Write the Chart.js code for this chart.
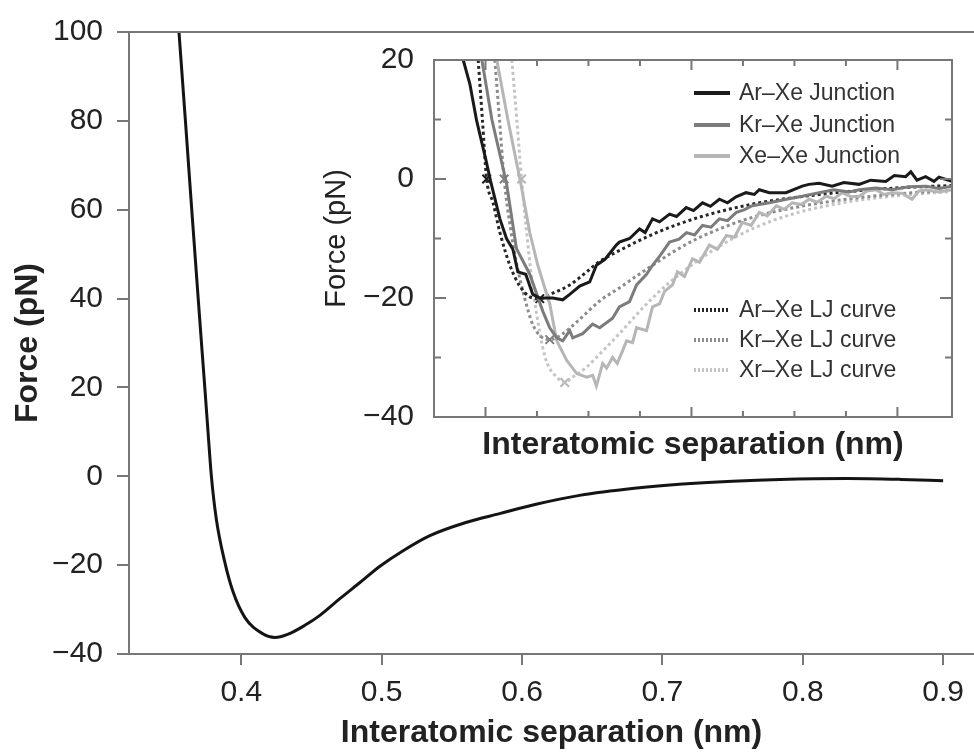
<!DOCTYPE html>
<html>
<head>
<meta charset="utf-8">
<script src="https://cdn.jsdelivr.net/npm/chart.js@4.4.0/dist/chart.umd.min.js"></script>
<style>
  body { margin: 0; background: #fff; }
  #wrap { position: relative; width: 974px; height: 752px; }
  #main_canvas { position: absolute; left: 0; top: 0; }
  #inset_canvas { position: absolute; left: 300px; top: 30px; }
</style>
</head>
<body>
<div id="wrap">
  <canvas id="main_canvas" width="974" height="752"></canvas>
  <canvas id="inset_canvas" width="660" height="440"></canvas>
</div>
<script>
// MAIN CURVE (nm, pN)
const main_x = [0.3556,0.3602,0.3647,0.3693,0.3721,0.3740,0.3763,0.3787,0.3822,0.3880,0.394,0.4026,0.4156,0.424,0.433,0.445,0.456,0.47,0.485,0.499,0.515,0.534,0.56,0.584,0.61,0.641,0.68,0.712,0.75,0.784,0.831,0.87,0.90];
const main_y = [100,80,60,40,28,20,10,0,-9.6,-19,-25.9,-31.8,-35.5,-36.3,-35.6,-33.6,-31.3,-27.6,-23.8,-20.2,-16.8,-13.4,-10.4,-8.4,-6.3,-4.3,-2.7,-1.8,-1.1,-0.7,-0.5,-0.7,-1.0];
const main_xticks = [0.4,0.5,0.6,0.7,0.8,0.9];
const main_yticks = [-40,-20,0,20,40,60,80,100];

// INSET: measured junctions
const ar_j_x = [0.3784,0.3849,0.3914,0.4004,0.4049,0.4140,0.4204,0.4266,0.4314,0.4391,0.4459,0.4527,0.4653,0.4750,0.4818,0.4915,0.5012,0.5077,0.516,0.527,0.530,0.540,0.5496,0.555,0.5622,0.569,0.5787,0.5855,0.5949,0.602,0.6107,0.6184,0.6271,0.635,0.6433,0.653,0.661,0.6659,0.6756,0.6918,0.7076,0.714,0.724,0.7366,0.748,0.7628,0.774,0.7887,0.797,0.808,0.813,0.819,0.8274,0.8355,0.8403,0.853];
const ar_j_y = [20,15.9,9.8,3.2,-0.3,-6.7,-10,-11.8,-15.6,-16,-19.4,-20,-20,-20.3,-19.4,-18,-17.3,-14.5,-13.5,-11.1,-10.6,-10.0,-8.4,-9.0,-6.7,-7.2,-5.9,-6.3,-4.8,-5.3,-4.0,-4.6,-3.4,-4.0,-3.0,-2.3,-2.6,-1.8,-2.3,-2.3,-1.2,-0.9,-0.7,-1.2,-0.6,-0.9,-0.2,-0.4,0.6,0.4,1.2,-0.2,0.4,-0.4,0.3,-0.4];

const kr_j_x = [0.3965,0.4062,0.4204,0.4301,0.443,0.4556,0.4624,0.4692,0.475,0.4818,0.4847,0.4944,0.504,0.5109,0.5234,0.530,0.5399,0.5467,0.5564,0.5622,0.569,0.5787,0.588,0.5952,0.603,0.6107,0.619,0.6271,0.635,0.6436,0.651,0.6591,0.6756,0.6921,0.7076,0.724,0.7384,0.753,0.7628,0.779,0.7948,0.811,0.8277,0.840,0.853];
const kr_j_y = [20,10,-0.7,-11.7,-16,-22.2,-25,-26.7,-27.2,-25.5,-26.7,-26,-24.4,-25,-23.4,-21.5,-20.6,-17.8,-16,-14.5,-13,-10.6,-10.1,-9,-9.4,-7.8,-8.1,-6.7,-7.0,-5.6,-5.2,-4.5,-4.0,-3.4,-2.9,-2.3,-1.8,-2.2,-1.8,-1.5,-1.8,-1.3,-1.2,-1.6,-1.2];

const xe_j_x = [0.4110,0.4217,0.4340,0.443,0.4508,0.4624,0.4692,0.4789,0.4886,0.4983,0.5041,0.5077,0.5138,0.5176,0.5234,0.528,0.5331,0.537,0.5428,0.5467,0.5564,0.5622,0.569,0.5738,0.5816,0.5864,0.5932,0.601,0.6078,0.6174,0.6252,0.634,0.6417,0.6494,0.658,0.6659,0.6736,0.6824,0.690,0.6979,0.7066,0.7143,0.722,0.7308,0.7386,0.7463,0.755,0.7628,0.7705,0.7793,0.787,0.7948,0.8045,0.8141,0.821,0.8277,0.840,0.853];
const xe_j_y = [20,10,-0.5,-9,-14.5,-21,-27.2,-30.5,-32.7,-33.3,-33,-34.8,-31,-31.8,-30,-31,-28.9,-27.2,-27.5,-25,-25.5,-21.5,-21,-18.9,-17.8,-15.6,-16.4,-13.4,-14,-11.1,-11.8,-9.5,-9.8,-7.3,-7.8,-5.6,-6.2,-4.5,-5.1,-4,-4.3,-3.4,-3.9,-2.9,-3.3,-2.3,-3.0,-2.9,-2.0,-1.8,-2.6,-2.3,-2.4,-3.4,-2.0,-1.8,-2.2,-1.8];

// INSET: Lennard-Jones curves
const ar_lj_x = [0.3929,0.3970,0.4011,0.4074,0.4140,0.4237,0.4333,0.4430,0.4527,0.4653,0.4818,0.4983,0.5080,0.537,0.569,0.61,0.66,0.71,0.76,0.81,0.853];
const ar_lj_y = [20,10,0,-4,-9,-14.5,-18,-19.8,-20.1,-19.2,-17.8,-15.6,-14.2,-11.4,-8.8,-6.3,-4.2,-2.9,-2.0,-1.4,-1.1];

const kr_lj_x = [0.4091,0.4136,0.4181,0.4240,0.4300,0.4380,0.4460,0.4540,0.4624,0.4750,0.4900,0.5109,0.530,0.5467,0.5622,0.58,0.60,0.63,0.66,0.70,0.75,0.80,0.853];
const kr_lj_y = [20,10,0,-8,-14,-20,-24.5,-26.5,-27,-26,-23.8,-20.5,-18.3,-16.3,-14.5,-12.5,-10.5,-8.2,-6.4,-4.8,-3.4,-2.5,-1.9];

const xe_lj_x = [0.4256,0.4304,0.4350,0.4400,0.4450,0.4500,0.4552,0.4600,0.4692,0.4770,0.4847,0.4983,0.5138,0.530,0.5467,0.5622,0.58,0.60,0.63,0.66,0.70,0.75,0.80,0.853];
const xe_lj_y = [20,10,0,-9,-17,-23,-28,-31,-33.3,-34.2,-33.3,-31.6,-28.9,-26,-22.8,-20,-17.2,-14.5,-11,-8.3,-5.8,-3.9,-2.8,-2.1];

// crosses on the LJ curves (zero crossing and minimum)
const mark_x = [0.4011,0.4181,0.4350,0.4527,0.4624,0.4770];
const mark_y = [0,0,0,-20.1,-27,-34.2];

const inset_yticks = [-40,-20,0,20];
const inset_yminor = [-30,-10,10];
const inset_xmajor = [0.4,0.6,0.8];
const inset_xminor = [0.45,0.5,0.55,0.65,0.7,0.75];

const FONT = "'Liberation Sans', Arial, sans-serif";
const AXIS = '#777';
const TXT = '#222';

function pts(xs, ys) { return xs.map((x, i) => ({ x: x, y: ys[i] })); }
function fmt_minus(v) { return v < 0 ? '\u2212' + Math.abs(v) : '' + v; }

// MAIN CHART
const top_line = {
    id: 'top_line',
    afterDraw(chart) {
        const ctx = chart.ctx, a = chart.chartArea;
        ctx.save();
        ctx.strokeStyle = AXIS;
        ctx.lineWidth = 2;
        ctx.beginPath();
        ctx.moveTo(a.left, a.top);
        ctx.lineTo(a.right, a.top);
        ctx.stroke();
        ctx.restore();
    }
};

const main_config = {
    type: 'line',
    data: {
        datasets: [{
            data: pts(main_x, main_y),
            borderColor: '#141414',
            borderWidth: 3,
            pointRadius: 0,
            cubicInterpolationMode: 'monotone',
            fill: false
        }]
    },
    options: {
        responsive: false,
        animation: false,
        layout: { padding: { top: 21, right: 0, left: 0, bottom: 0 } },
        plugins: { legend: { display: false }, tooltip: { enabled: false } },
        scales: {
            x: {
                type: 'linear', min: 0.32, max: 0.922,
                afterBuildTicks: s => { s.ticks = main_xticks.map(v => ({ value: v })); },
                afterFit: s => { s.height = 98; },
                ticks: { font: { family: FONT, size: 30 }, color: TXT, padding: 10, maxRotation: 0,
                         callback: v => v.toFixed(1) },
                grid: { drawOnChartArea: false, tickLength: 11, color: AXIS, lineWidth: 2 },
                border: { color: AXIS, width: 2 },
                title: { display: true, text: 'Interatomic separation (nm)', color: TXT,
                         font: { family: FONT, size: 32, weight: 'bold' }, padding: { top: 0, bottom: 0 } }
            },
            y: {
                type: 'linear', min: -40, max: 100,
                afterBuildTicks: s => { s.ticks = main_yticks.map(v => ({ value: v })); },
                afterFit: s => { s.width = 129; },
                ticks: { font: { family: FONT, size: 30 }, color: TXT, padding: 14, callback: fmt_minus },
                grid: { drawOnChartArea: false, tickLength: 12, color: AXIS, lineWidth: 2 },
                border: { color: AXIS, width: 2 },
                title: { display: true, text: 'Force (pN)', color: TXT,
                         font: { family: FONT, size: 32, weight: 'bold' }, padding: { top: 9, bottom: 0 } }
            }
        }
    },
    plugins: [top_line]
};
const main_chart = new Chart(document.getElementById('main_canvas'), main_config);

// INSET CHART
const inset_frame = {
    id: 'inset_frame',
    afterDatasetsDraw(chart) {
        const ctx = chart.ctx, a = chart.chartArea;
        const sx = chart.scales.x, sy = chart.scales.y;
        ctx.save();
        ctx.strokeStyle = AXIS;
        ctx.lineWidth = 2;
        ctx.strokeRect(a.left, a.top, a.right - a.left, a.bottom - a.top);
        ctx.beginPath();
        const xt = (v, len) => {
            const p = sx.getPixelForValue(v);
            ctx.moveTo(p, a.bottom); ctx.lineTo(p, a.bottom - len);
            ctx.moveTo(p, a.top); ctx.lineTo(p, a.top + len);
        };
        const yt = (v, len) => {
            const p = sy.getPixelForValue(v);
            ctx.moveTo(a.left, p); ctx.lineTo(a.left + len, p);
            ctx.moveTo(a.right, p); ctx.lineTo(a.right - len, p);
        };
        inset_xmajor.forEach(v => xt(v, 10));
        inset_xminor.forEach(v => xt(v, 6));
        inset_yticks.forEach(v => yt(v, 12));
        inset_yminor.forEach(v => yt(v, 7));
        ctx.stroke();
        ctx.restore();
    }
};

const inset_legend = {
    id: 'inset_legend',
    afterDraw(chart) {
        const ctx = chart.ctx, a = chart.chartArea;
        const rows = [33, 65, 96, 250, 280, 310];
        ctx.save();
        ctx.font = '23px ' + FONT;
        ctx.fillStyle = '#333';
        ctx.textBaseline = 'middle';
        rows.forEach((dy, i) => {
            const ds = chart.data.datasets[i];
            const y = a.top + dy;
            ctx.save();
            ctx.strokeStyle = ds.borderColor;
            ctx.lineWidth = 4;
            ctx.setLineDash(ds.borderDash.length ? [2, 2] : []);
            ctx.beginPath();
            ctx.moveTo(a.right - 258, y);
            ctx.lineTo(a.right - 222, y);
            ctx.stroke();
            ctx.restore();
            ctx.fillText(ds.label, a.right - 213, y + 1);
        });
        ctx.restore();
    }
};

function line_ds(label, xs, ys, color, width, dash) {
    return {
        label: label,
        data: pts(xs, ys),
        borderColor: color,
        borderWidth: width,
        borderDash: dash,
        pointRadius: 0,
        tension: 0,
        cubicInterpolationMode: dash.length ? 'monotone' : 'default',
        fill: false
    };
}

const inset_config = {
    type: 'line',
    data: {
        datasets: [
            line_ds('Ar\u2013Xe Junction', ar_j_x, ar_j_y, '#1a1a1a', 3, []),
            line_ds('Kr\u2013Xe Junction', kr_j_x, kr_j_y, '#7c7c7c', 3, []),
            line_ds('Xe\u2013Xe Junction', xe_j_x, xe_j_y, '#b6b6b6', 3, []),
            line_ds('Ar\u2013Xe LJ curve', ar_lj_x, ar_lj_y, '#262626', 3, [3, 3]),
            line_ds('Kr\u2013Xe LJ curve', kr_lj_x, kr_lj_y, '#8c8c8c', 3, [3, 3]),
            line_ds('Xr\u2013Xe LJ curve', xe_lj_x, xe_lj_y, '#c4c4c4', 3, [3, 3]),
            {
                label: 'cross',
                data: pts(mark_x, mark_y),
                showLine: false,
                pointStyle: 'crossRot',
                pointRadius: 6,
                pointBorderWidth: 2,
                pointBorderColor: ['#1a1a1a', '#7c7c7c', '#b6b6b6', '#1a1a1a', '#7c7c7c', '#b6b6b6']
            }
        ]
    },
    options: {
        responsive: false,
        animation: false,
        layout: { padding: { top: 25, right: 7, left: 0, bottom: 0 } },
        plugins: { legend: { display: false }, tooltip: { enabled: false } },
        scales: {
            x: {
                type: 'linear', min: 0.35, max: 0.853,
                ticks: { display: false },
                grid: { display: false },
                border: { display: false },
                afterFit: s => { s.height = 53; },
                title: { display: true, text: 'Interatomic separation (nm)', color: TXT,
                         font: { family: FONT, size: 32, weight: 'bold' }, padding: { top: 0, bottom: 6 } }
            },
            y: {
                type: 'linear', min: -40, max: 20,
                afterBuildTicks: s => { s.ticks = inset_yticks.map(v => ({ value: v })); },
                afterFit: s => { s.width = 134; },
                ticks: { font: { family: FONT, size: 30 }, color: TXT, padding: 12, callback: fmt_minus },
                grid: { display: false },
                border: { display: false },
                title: { display: true, text: 'Force (pN)', color: TXT,
                         font: { family: FONT, size: 29 }, padding: { top: 20, bottom: 0 } }
            }
        }
    },
    plugins: [inset_frame, inset_legend]
};
const inset_chart = new Chart(document.getElementById('inset_canvas'), inset_config);
</script>
</body>
</html>
